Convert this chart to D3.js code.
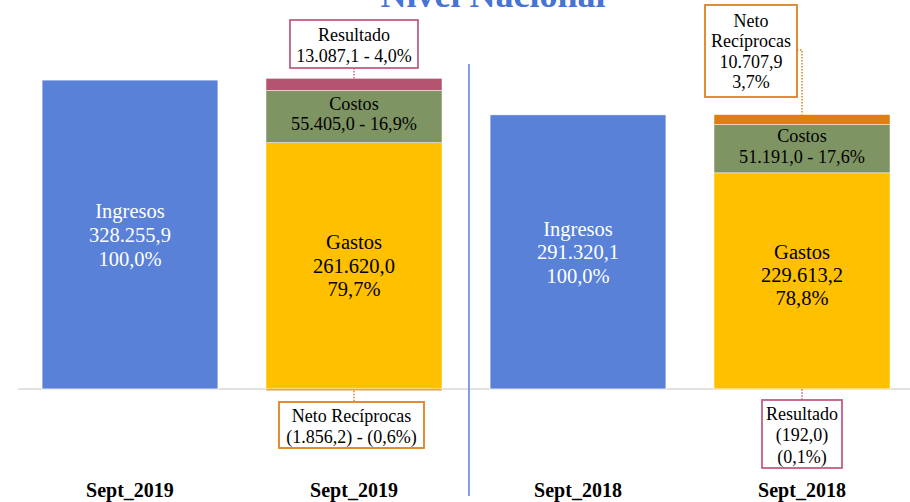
<!DOCTYPE html>
<html>
<head>
<meta charset="utf-8">
<script src="https://cdn.jsdelivr.net/npm/d3@7"></script>
<style>
  body { margin: 0; background: #fff; }
</style>
</head>
<body>
<svg id="chart" width="910" height="502"></svg>
<script>
/* Nivel Nacional - estado de resultados, Sept 2019 vs Sept 2018 */

const CATEGORIES = ['Sept_2019 ', 'Sept_2019', 'Sept_2018 ', 'Sept_2018'];
const PERIODS = ['Sept_2019', 'Sept_2018'];

const INGRESOS = [328255.9, 291320.1];
const GASTOS = [261620.0, 229613.2];
const COSTOS = [55405.0, 51191.0];
const NETO_RECIPROCAS = [-1856.2, 10707.9];
const RESULTADO = [13087.1, -192.0];

const COLORS = {
  ingresos: '#5981d8',
  gastos: '#ffc000',
  costos: '#7e9463',
  neto: '#df7f12',
  resultado: '#b5546f',
};
const BOX_STROKE = { neto: '#e0801f', resultado: '#c25e84' };
const SERIF = "'Liberation Serif', 'Times New Roman', serif";

// small per-bar nudges of the Gastos label, as on the slide
const GASTOS_DY = [7, 1];

/* ── Format ────────────────────────────────────────────────────────── */

const locale = d3.formatLocale({ decimal: ',', thousands: '.', grouping: [3], currency: ['', ''] });
const fmtNum = locale.format(',.1f');
const fmtPct = locale.format('.1f');
const num = v => v < 0 ? '(' + fmtNum(-v) + ')' : fmtNum(v);
const pct = v => v < 0 ? '(' + fmtPct(-v) + '%)' : fmtPct(v) + '%';

/* ── Scales ────────────────────────────────────────────────────────── */

const svg = d3.select('#chart');
const baseY = 389;

const x = d3.scaleBand()
  .domain(CATEGORIES)
  .range([18, 914])
  .paddingInner(0.2143)
  .paddingOuter(0.1071);

const y = d3.scaleLinear()
  .domain([0, 350000])
  .range([baseY, baseY - 350000 * 309 / 328255.9]);

function label(size, fill) {
  return svg.append('text')
    .style('font-family', SERIF)
    .attr('text-anchor', 'middle')
    .attr('font-size', size)
    .attr('fill', fill);
}

// Title (cut at the top like the original slide)
svg.append('text')
  .style('font-family', SERIF)
  .attr('x', 493).attr('y', 7)
  .attr('text-anchor', 'middle')
  .attr('font-size', 36).attr('font-weight', 'bold')
  .attr('fill', '#4673d6')
  .text('Nivel Nacional');

// Baseline
svg.append('line')
  .attr('x1', 18).attr('x2', 910)
  .attr('y1', y(0)).attr('y2', y(0))
  .attr('stroke', '#d9d9d9').attr('stroke-width', 1.5);

// Divider between years
svg.append('line')
  .attr('x1', 469).attr('x2', 469)
  .attr('y1', 64).attr('y2', 496)
  .attr('stroke', '#5b7fd0').attr('stroke-width', 1.5);

/* ── Ingresos bars ─────────────────────────────────────────────────── */

const ingRows = PERIODS.map((p, i) => ({ cat: CATEGORIES[i * 2], value: INGRESOS[i] }));

svg.append('g').selectAll('rect')
  .data(ingRows)
  .join('rect')
  .attr('x', d => x(d.cat))
  .attr('width', x.bandwidth())
  .attr('y', d => y(d.value))
  .attr('height', d => y(0) - y(d.value))
  .attr('fill', COLORS.ingresos)
  .attr('stroke', '#fff').attr('stroke-width', 0.8);

ingRows.forEach(d => {
  const cx = x(d.cat) + x.bandwidth() / 2;
  const cy = (y(0) + y(d.value)) / 2 + 7.5;
  const t = label(20.5, '#fff');
  ['Ingresos', num(d.value), pct(100)].forEach((s, k) => {
    t.append('tspan').attr('x', cx).attr('y', cy + (k - 1) * 23.7).text(s);
  });
});

/* ── Stacked bars ──────────────────────────────────────────────────── */

const KEYS = ['gastos', 'costos', 'neto', 'resultado'];
const stackRows = PERIODS.map((p, i) => ({
  cat: CATEGORIES[i * 2 + 1],
  total: INGRESOS[i],
  gastos: GASTOS[i],
  costos: COSTOS[i],
  neto: NETO_RECIPROCAS[i],
  resultado: RESULTADO[i],
}));

const series = d3.stack()
  .keys(KEYS)
  .offset(d3.stackOffsetDiverging)(stackRows);

svg.append('g').selectAll('g')
  .data(series)
  .join('g')
  .attr('fill', s => COLORS[s.key])
  .selectAll('rect')
  .data(s => s)
  .join('rect')
  .attr('x', d => x(d.data.cat))
  .attr('width', x.bandwidth())
  .attr('y', d => y(Math.max(d[0], d[1])))
  .attr('height', d => Math.abs(y(d[0]) - y(d[1])))
  .attr('stroke', '#fff').attr('stroke-width', 0.5);

function seg(key, i) {
  const s = series.find(v => v.key === key)[i];
  return { top: y(Math.max(s[0], s[1])), bottom: y(Math.min(s[0], s[1])) };
}

stackRows.forEach((d, i) => {
  const cx = x(d.cat) + x.bandwidth() / 2;

  // Gastos
  const g = seg('gastos', i);
  const gy = (g.top + g.bottom) / 2 + GASTOS_DY[i];
  const tg = label(20.5, '#000');
  ['Gastos', num(d.gastos), pct(d.gastos / d.total * 100)].forEach((s, k) => {
    tg.append('tspan').attr('x', cx).attr('y', gy + (k - 1) * 23.4).text(s);
  });

  // Costos
  const c = seg('costos', i);
  const cy = (c.top + c.bottom) / 2;
  const tc = label(18.2, '#000');
  ['Costos', num(d.costos) + ' - ' + pct(d.costos / d.total * 100)].forEach((s, k) => {
    tc.append('tspan').attr('x', cx).attr('y', cy - 7 + k * 20.8).text(s);
  });
});

/* ── Callouts ──────────────────────────────────────────────────────── */

function callout(opts) {
  svg.append('path')
    .attr('d', opts.leader)
    .attr('fill', 'none')
    .attr('stroke', opts.color)
    .attr('stroke-width', 1.5)
    .attr('stroke-dasharray', '1.5,1.5');
  svg.append('rect')
    .attr('x', opts.x0).attr('y', opts.y0)
    .attr('width', opts.x1 - opts.x0).attr('height', opts.y1 - opts.y0)
    .attr('fill', '#fff')
    .attr('stroke', opts.color).attr('stroke-width', 1.8);
  const t = label(18, '#000');
  opts.lines.forEach((s, k) => {
    t.append('tspan').attr('x', (opts.x0 + opts.x1) / 2).attr('y', opts.firstY + k * opts.step).text(s);
  });
}

// Sept_2019
{
  const d = stackRows[0];
  const cx = x(d.cat) + x.bandwidth() / 2;
  const r = seg('resultado', 0);
  callout({
    x0: cx - 64, x1: cx + 64, y0: 20, y1: 68,
    color: BOX_STROKE.resultado,
    leader: `M${cx},68V${r.top}`,
    lines: ['Resultado', num(d.resultado) + ' - ' + pct(d.resultado / d.total * 100)],
    firstY: 40.7, step: 21,
  });
  const n = seg('neto', 0);
  callout({
    x0: cx - 75, x1: cx + 70, y0: 402, y1: 448,
    color: BOX_STROKE.neto,
    leader: `M${cx},${n.bottom}V402`,
    lines: ['Neto Recíprocas', num(d.neto) + ' - ' + pct(d.neto / d.total * 100)],
    firstY: 421.7, step: 21,
  });
}

// Sept_2018
{
  const d = stackRows[1];
  const cx = x(d.cat) + x.bandwidth() / 2;
  const n = seg('neto', 1);
  callout({
    x0: 705, x1: 797, y0: 5, y1: 97,
    color: BOX_STROKE.neto,
    leader: `M797,50H${cx}V${n.top}`,
    lines: ['Neto', 'Recíprocas', num(d.neto), pct(d.neto / d.total * 100)],
    firstY: 26.7, step: 20.4,
  });
  const r = seg('resultado', 1);
  callout({
    x0: cx - 40, x1: cx + 40, y0: 400, y1: 468,
    color: BOX_STROKE.resultado,
    leader: `M${cx},${r.bottom}V400`,
    lines: ['Resultado', num(d.resultado), pct(d.resultado / d.total * 100)],
    firstY: 419.5, step: 21.7,
  });
}

/* ── Category labels ───────────────────────────────────────────────── */

svg.append('g').selectAll('text')
  .data(CATEGORIES)
  .join('text')
  .style('font-family', SERIF)
  .attr('x', d => x(d) + x.bandwidth() / 2)
  .attr('y', 497)
  .attr('text-anchor', 'middle')
  .attr('font-size', 20)
  .attr('font-weight', 'bold')
  .attr('fill', '#000')
  .text(d => d.trim());
</script>
</body>
</html>
